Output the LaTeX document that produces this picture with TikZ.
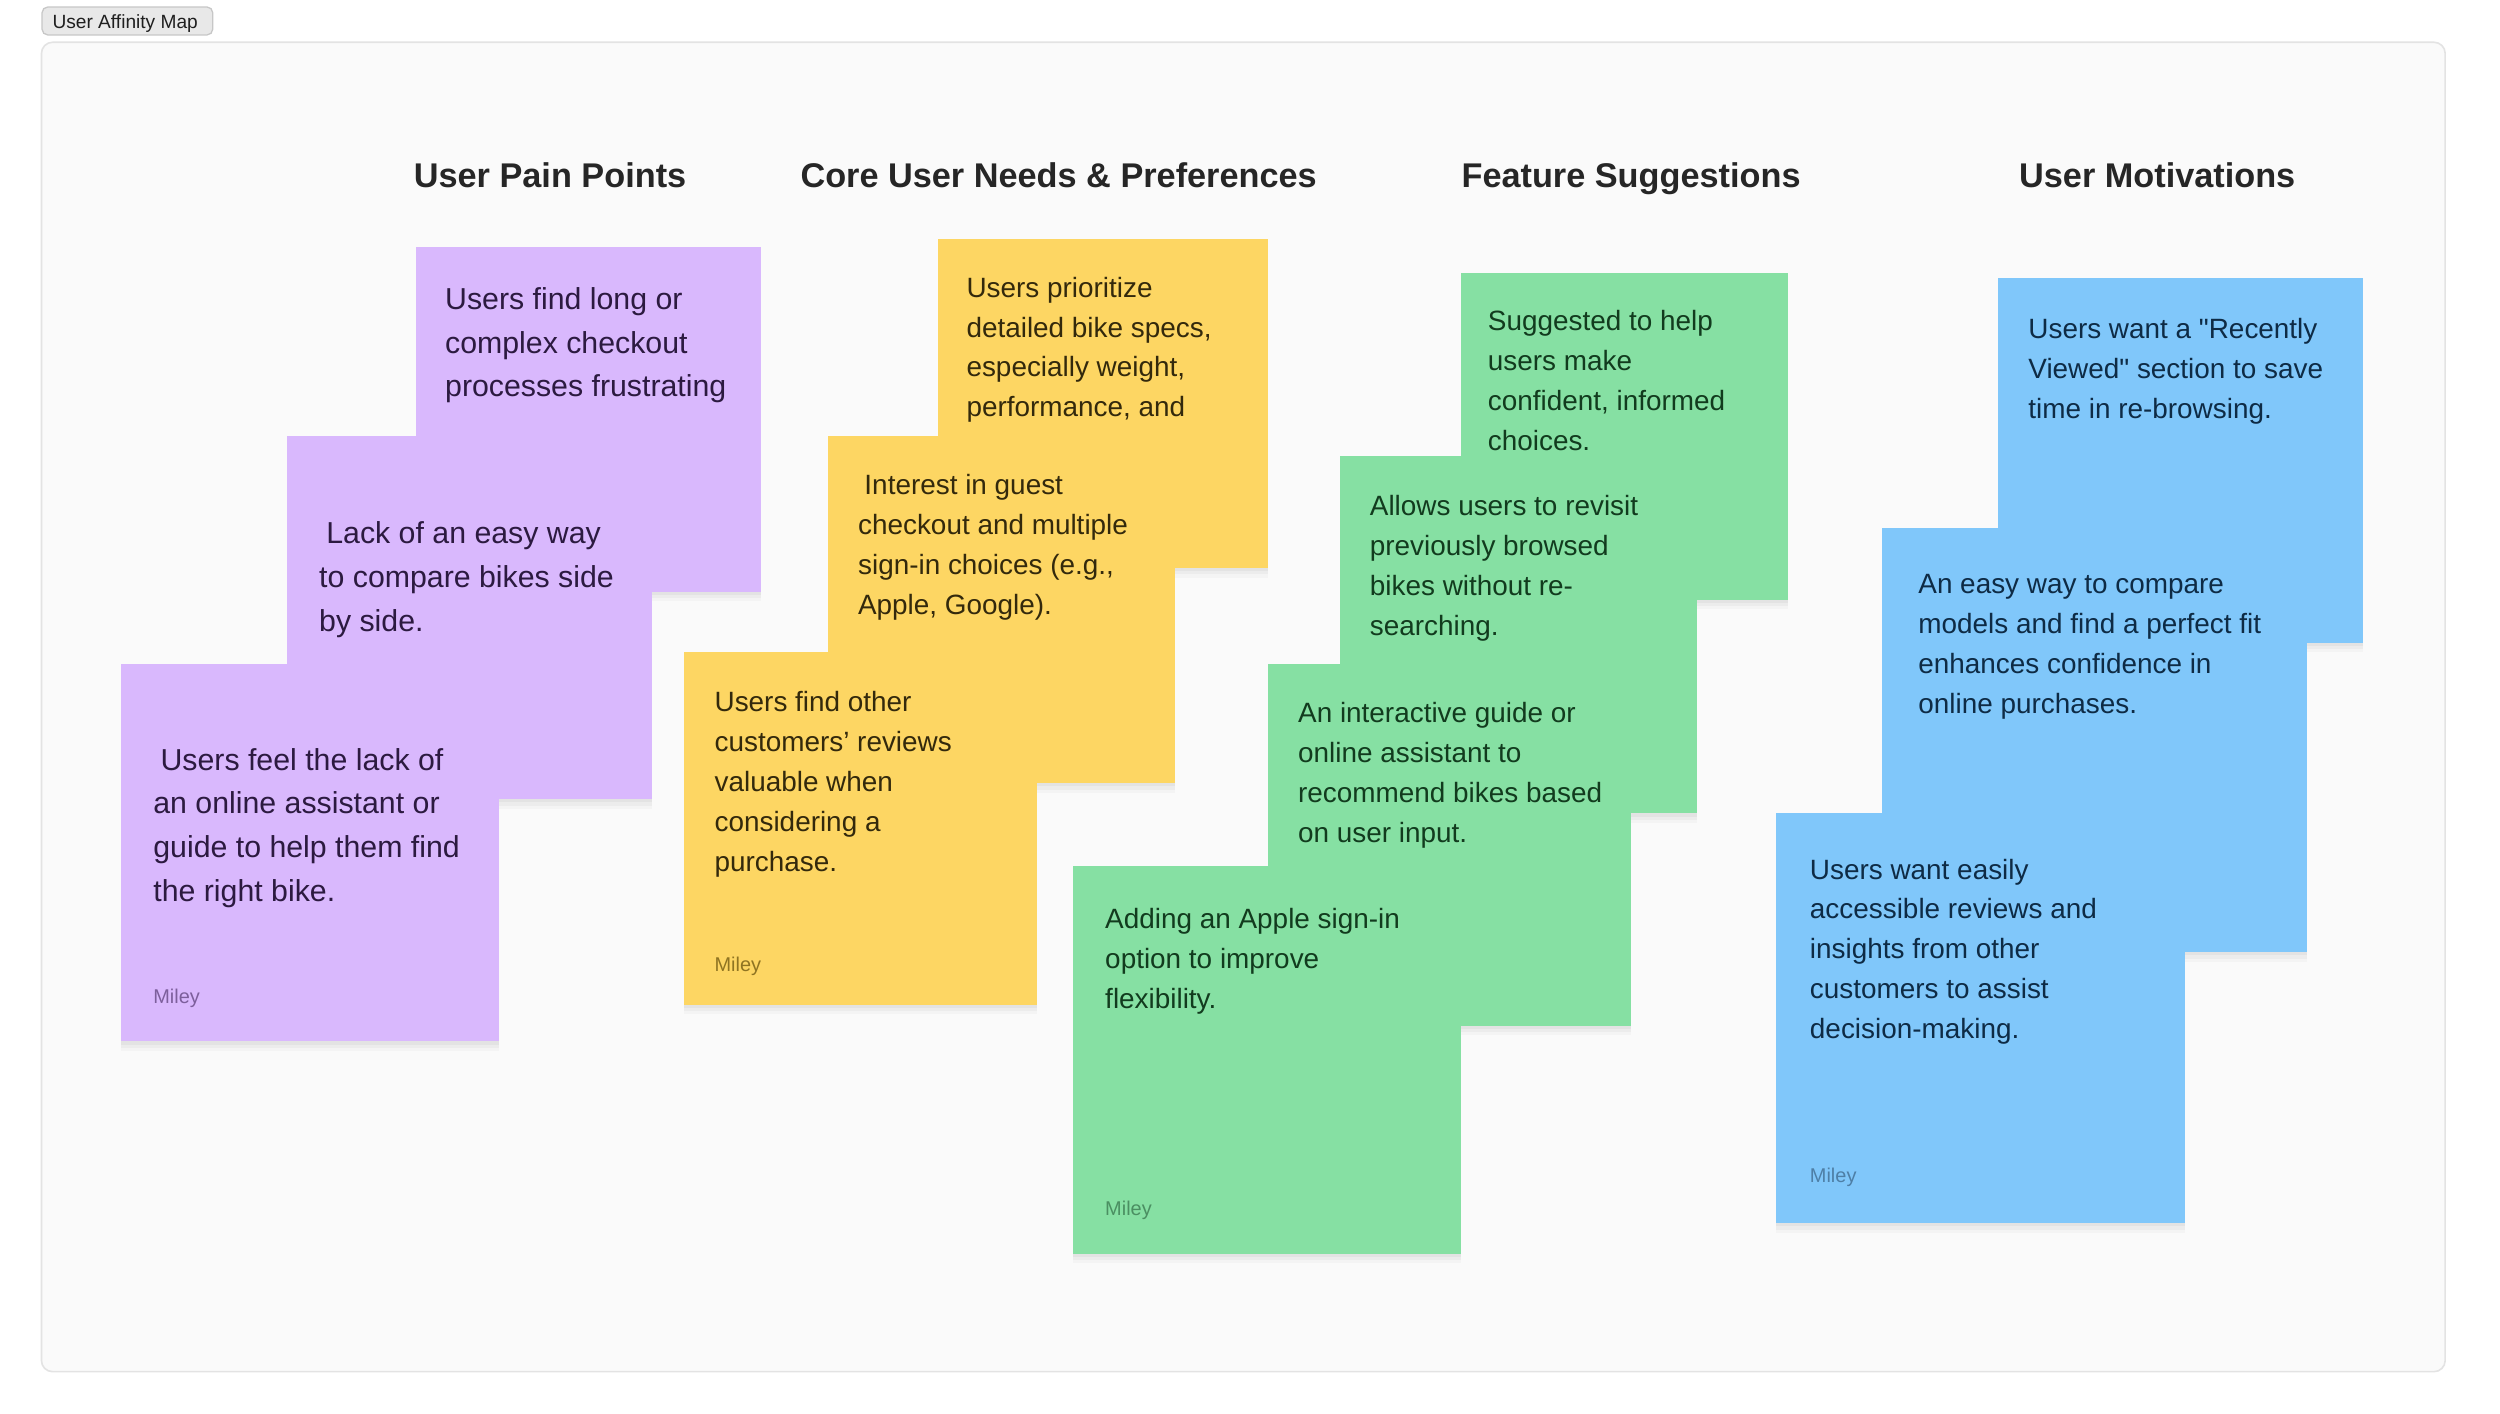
\documentclass[tikz,border=0pt]{standalone}
\usepackage{fontspec}
\setmainfont{Liberation Sans}
\usetikzlibrary{shadows}
\definecolor{pfill}{HTML}{D9B8FD}
\definecolor{yfill}{HTML}{FDD663}
\definecolor{gfill}{HTML}{86E0A3}
\definecolor{bfill}{HTML}{80C7FA}
\definecolor{ptxt}{HTML}{2C1A40}
\definecolor{ytxt}{HTML}{33290C}
\definecolor{gtxt}{HTML}{123B1E}
\definecolor{btxt}{HTML}{0E2B45}
\definecolor{pmil}{HTML}{7D5F9C}
\definecolor{ymil}{HTML}{8F7422}
\definecolor{gmil}{HTML}{4B8F62}
\definecolor{bmil}{HTML}{4E7FA6}
\definecolor{framefill}{HTML}{FAFAFA}
\definecolor{framedraw}{HTML}{E3E3E3}
\definecolor{headtxt}{HTML}{262626}
\tikzset{
  note/.style={rectangle, anchor=north west, inner sep=0pt, draw=none,
    general shadow={fill=black, opacity=0.025, shadow yshift=-6pt, shadow xshift=0pt},
    general shadow={fill=black, opacity=0.03, shadow yshift=-4pt, shadow xshift=0pt},
    general shadow={fill=black, opacity=0.035, shadow yshift=-2pt, shadow xshift=0pt}},
  pnote/.style={note, fill=pfill},
  ynote/.style={note, fill=yfill},
  gnote/.style={note, fill=gfill},
  bnote/.style={note, fill=bfill},
  ntext/.style={anchor=north west, inner sep=0pt, align=left, font=\fontsize{17.5}{25}\selectfont},
  ptext/.style={ntext, text=ptxt, font=\fontsize{19}{27.5}\selectfont},
  ytext/.style={ntext, text=ytxt},
  gtext/.style={ntext, text=gtxt},
  btext/.style={ntext, text=btxt},
  author/.style={anchor=base west, inner sep=0pt, font=\fontsize{12.5}{14}\selectfont},
  header/.style={anchor=base, inner sep=0pt, text=headtxt, font=\bfseries\fontsize{21.5}{24}\selectfont},
}
\newcommand{\fl}{\vphantom{Ad}}
\begin{document}
\begin{tikzpicture}[x=1pt, y=-1pt]
\fill[white] (0,0) rectangle (1568,886.85);
\useasboundingbox (0,0) rectangle (1568,886.85);
% frame
\draw[framedraw, fill=framefill, line width=1pt, rounded corners=7pt] (26,26.5) rectangle (1533.6,860.3);
% title tag
\node[draw=black!22, fill=black!9, rounded corners=3.5pt, line width=0.8pt, minimum width=107pt, minimum height=17.5pt, inner sep=0pt, anchor=north west] (tag) at (26,4) {};
\node[anchor=base, inner sep=0pt, font=\fontsize{12}{14}\selectfont, text=black!88] (tagtext) at (78.5,17.6) {User Affinity Map};
% headers
\node[header] (h1) at (345,117.7) {User Pain Points};
\node[header] (h2) at (664,117.7) {Core User Needs \& Preferences};
\node[header] (h3) at (1023,117.7) {Feature Suggestions};
\node[header] (h4) at (1353,117.7) {User Motivations};
% purple
\node[pnote, minimum width=216pt, minimum height=216pt] (p1) at (261,155) {};
\node[ptext] (p1t) at (279,180) {\fl Users find long or\\complex checkout\\processes frustrating};
\node[pnote, minimum width=229pt, minimum height=228pt] (p2) at (180,273) {};
\node[ptext] (p2t) at (200,327) {\fl\hspace*{4.5pt}Lack of an easy way\\to compare bikes side\\by side.};
\node[pnote, minimum width=237pt, minimum height=237pt] (p3) at (76,416) {};
\node[ptext] (p3t) at (96,469) {\fl\hspace*{4.5pt}Users feel the lack of\\an online assistant or\\guide to help them find\\the right bike.};
\node[author, text=pmil] (p3a) at (96,629.5) {Miley};
% yellow
\node[ynote, minimum width=207pt, minimum height=206pt] (y1) at (588,150) {};
\node[ytext] (y1t) at (606,173.5) {\fl Users prioritize\\detailed bike specs,\\especially weight,\\performance, and};
\node[ynote, minimum width=218pt, minimum height=218pt] (y2) at (519,273) {};
\node[ytext] (y2t) at (538,297.5) {\fl\hspace*{4pt}Interest in guest\\checkout and multiple\\sign-in choices (e.g.,\\Apple, Google).};
\node[ynote, minimum width=221pt, minimum height=221pt] (y3) at (429,409) {};
\node[ytext] (y3t) at (448,433.5) {\fl Users find other\\customers’ reviews\\valuable when\\considering a\\purchase.};
\node[author, text=ymil] (y3a) at (448,609.5) {Miley};
% green
\node[gnote, minimum width=205pt, minimum height=205pt] (g1) at (916,171) {};
\node[gtext] (g1t) at (933,194.5) {\fl Suggested to help\\users make\\confident, informed\\choices.};
\node[gnote, minimum width=224pt, minimum height=224pt] (g2) at (840,286) {};
\node[gtext] (g2t) at (859,310.5) {\fl Allows users to revisit\\previously browsed\\bikes without re-\\searching.};
\node[gnote, minimum width=228pt, minimum height=227pt] (g3) at (795,416) {};
\node[gtext] (g3t) at (814,440.5) {\fl An interactive guide or\\online assistant to\\recommend bikes based\\on user input.};
\node[gnote, minimum width=243pt, minimum height=243pt] (g4) at (673,543) {};
\node[gtext] (g4t) at (693,569.5) {\fl Adding an Apple sign-in\\option to improve\\flexibility.};
\node[author, text=gmil] (g4a) at (693,762.5) {Miley};
% blue
\node[bnote, minimum width=229pt, minimum height=229pt] (b1) at (1253,174) {};
\node[btext] (b1t) at (1272,199.5) {\fl Users want a \textquotedbl Recently\\Viewed\textquotedbl{} section to save\\time in re-browsing.};
\node[bnote, minimum width=267pt, minimum height=266pt] (b2) at (1180,331) {};
\node[btext] (b2t) at (1203,359.5) {\fl An easy way to compare\\models and find a perfect fit\\enhances confidence in\\online purchases.};
\node[bnote, minimum width=256pt, minimum height=257pt] (b3) at (1114,510) {};
\node[btext] (b3t) at (1135,538.5) {\fl Users want easily\\accessible reviews and\\insights from other\\customers to assist\\decision-making.};
\node[author, text=bmil] (b3a) at (1135,741.5) {Miley};
\end{tikzpicture}
\end{document}
